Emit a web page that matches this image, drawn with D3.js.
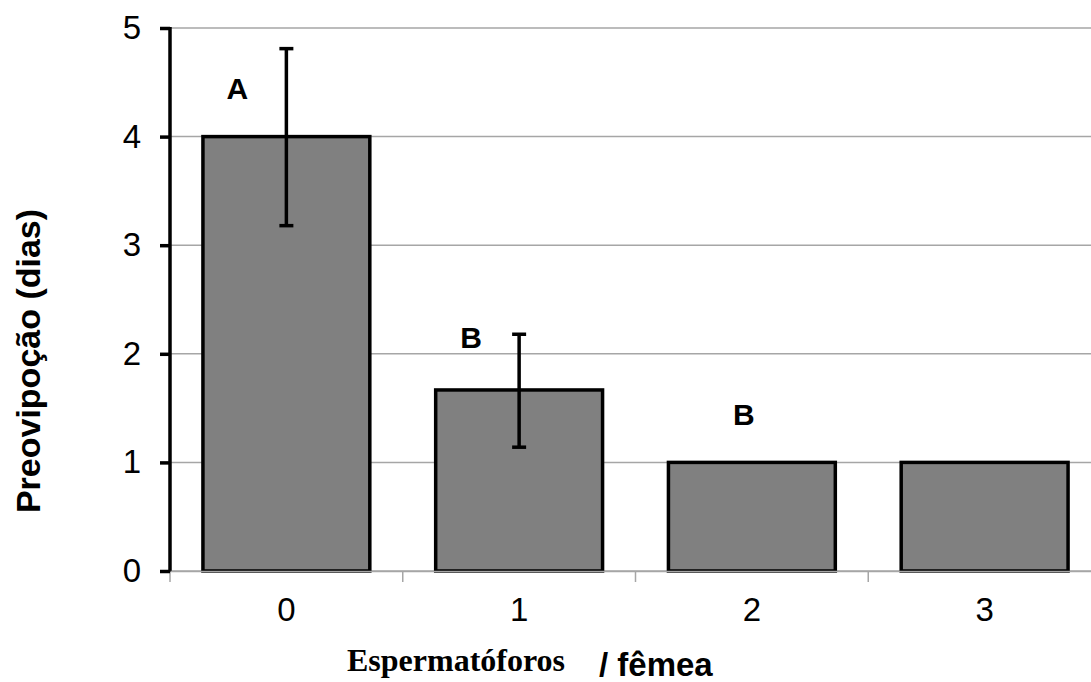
<!DOCTYPE html>
<html>

<head>
    <meta charset="utf-8">
    <title>Preovipoção por espermatóforos</title>
    <script src="https://d3js.org/d3.v7.min.js"></script>
    <style>
        body {
            margin: 0;
            background: #fff;
            font-family: Arial, "Liberation Sans", sans-serif;
        }

        .grid line {
            stroke: #a6a6a6;
            stroke-width: 1.5;
        }

        .bar {
            fill: #808080;
            stroke: #000;
            stroke-width: 3.5;
        }

        .tick-label {
            font-size: 33px;
            fill: #000;
        }

        .letter {
            font-size: 30px;
            font-weight: bold;
        }
    </style>
</head>

<body>
    <svg width="1091" height="682"></svg>

    <script>
        // data
        const categories = ["0", "1", "2", "3"];
        const means = [4.0, 1.667, 1.0, 1.0];
        const errLow = [3.18, 1.14, null, null];
        const errHigh = [4.81, 2.18, null, null];
        const letters = ["A", "B", "B", ""];
        const letterVals = [4.45, 2.15, 1.44, null];
        const yTicks = [0, 1, 2, 3, 4, 5];

        const svg = d3.select("svg");
        const plotLeft = 170, plotRight = 1101, plotTop = 28, plotBottom = 571;

        const y = d3.scaleLinear().domain([0, 5]).range([plotBottom, plotTop]);
        const x = d3.scaleBand()
            .domain(categories)
            .range([plotLeft, plotRight])
            .paddingInner(0.283)
            .paddingOuter(0.1415);

        // horizontal gridlines
        svg.append("g")
            .attr("class", "grid")
            .selectAll("line")
            .data(yTicks)
            .join("line")
            .attr("x1", plotLeft)
            .attr("x2", 1091)
            .attr("y1", d => y(d))
            .attr("y2", d => y(d));

        // category boundary ticks on the x axis
        const boundaries = categories.map(c => x(c) - x.step() * x.paddingOuter());
        svg.append("g")
            .attr("class", "grid")
            .selectAll("line")
            .data(boundaries)
            .join("line")
            .attr("x1", d => d)
            .attr("x2", d => d)
            .attr("y1", plotBottom)
            .attr("y2", plotBottom + 11);

        // bars
        svg.selectAll(".bar")
            .data(means)
            .join("rect")
            .attr("class", "bar")
            .attr("x", (d, i) => x(categories[i]))
            .attr("y", d => y(d))
            .attr("width", x.bandwidth())
            .attr("height", d => plotBottom - y(d));

        // error bars
        const errIdx = means.map((d, i) => i).filter(i => errLow[i] != null);
        const eb = svg.append("g").attr("stroke", "#000").attr("stroke-width", 3.5);
        errIdx.forEach(i => {
            const cx = x(categories[i]) + x.bandwidth() / 2;
            eb.append("line").attr("x1", cx).attr("x2", cx).attr("y1", y(errLow[i])).attr("y2", y(errHigh[i]));
            eb.append("line").attr("x1", cx - 7).attr("x2", cx + 7).attr("y1", y(errLow[i])).attr("y2", y(errLow[i]));
            eb.append("line").attr("x1", cx - 7).attr("x2", cx + 7).attr("y1", y(errHigh[i])).attr("y2", y(errHigh[i]));
        });

        // significance letters
        const letterDx = [-49, -48, -8, 0];
        svg.selectAll(".letter")
            .data(letters)
            .join("text")
            .attr("class", "letter")
            .attr("text-anchor", "middle")
            .attr("x", (d, i) => x(categories[i]) + x.bandwidth() / 2 + letterDx[i])
            .attr("y", (d, i) => letterVals[i] == null ? 0 : y(letterVals[i]))
            .attr("dy", "0.36em")
            .text(d => d);

        // y axis
        const yAxis = svg.append("g")
            .attr("transform", "translate(" + plotLeft + ",0)")
            .call(d3.axisLeft(y).tickValues(yTicks).tickSize(10).tickPadding(19).tickFormat(d3.format("d")));
        yAxis.select(".domain").attr("stroke", "#000").attr("stroke-width", 3.5)
            .attr("d", "M0," + (plotTop - 1) + "V" + (plotBottom + 1));
        yAxis.selectAll(".tick line").attr("stroke", "#000").attr("stroke-width", 3.5);
        yAxis.selectAll(".tick text").attr("class", "tick-label")
            .style("font-family", "Arial, 'Liberation Sans', sans-serif");

        // x axis labels
        const xAxis = svg.append("g")
            .attr("transform", "translate(0," + plotBottom + ")")
            .call(d3.axisBottom(x).tickSize(0).tickPadding(27));
        xAxis.select(".domain").attr("stroke", "#a6a6a6").attr("stroke-width", 1.5);
        xAxis.selectAll(".tick text").attr("class", "tick-label")
            .style("font-family", "Arial, 'Liberation Sans', sans-serif");

        // axis titles
        svg.append("text")
            .attr("transform", "translate(40,361) rotate(-90)")
            .attr("text-anchor", "middle")
            .style("font-size", "34px")
            .style("font-weight", "bold")
            .text("Preovipoção (dias)");

        svg.append("text")
            .attr("x", 347)
            .attr("y", 671)
            .style("font-family", "'Liberation Serif', 'Times New Roman', serif")
            .style("font-size", "32px")
            .style("font-weight", "bold")
            .text("Espermatóforos");

        svg.append("text")
            .attr("x", 599)
            .attr("y", 676)
            .style("font-size", "33px")
            .style("font-weight", "bold")
            .text("/ fêmea");
    </script>
</body>

</html>
